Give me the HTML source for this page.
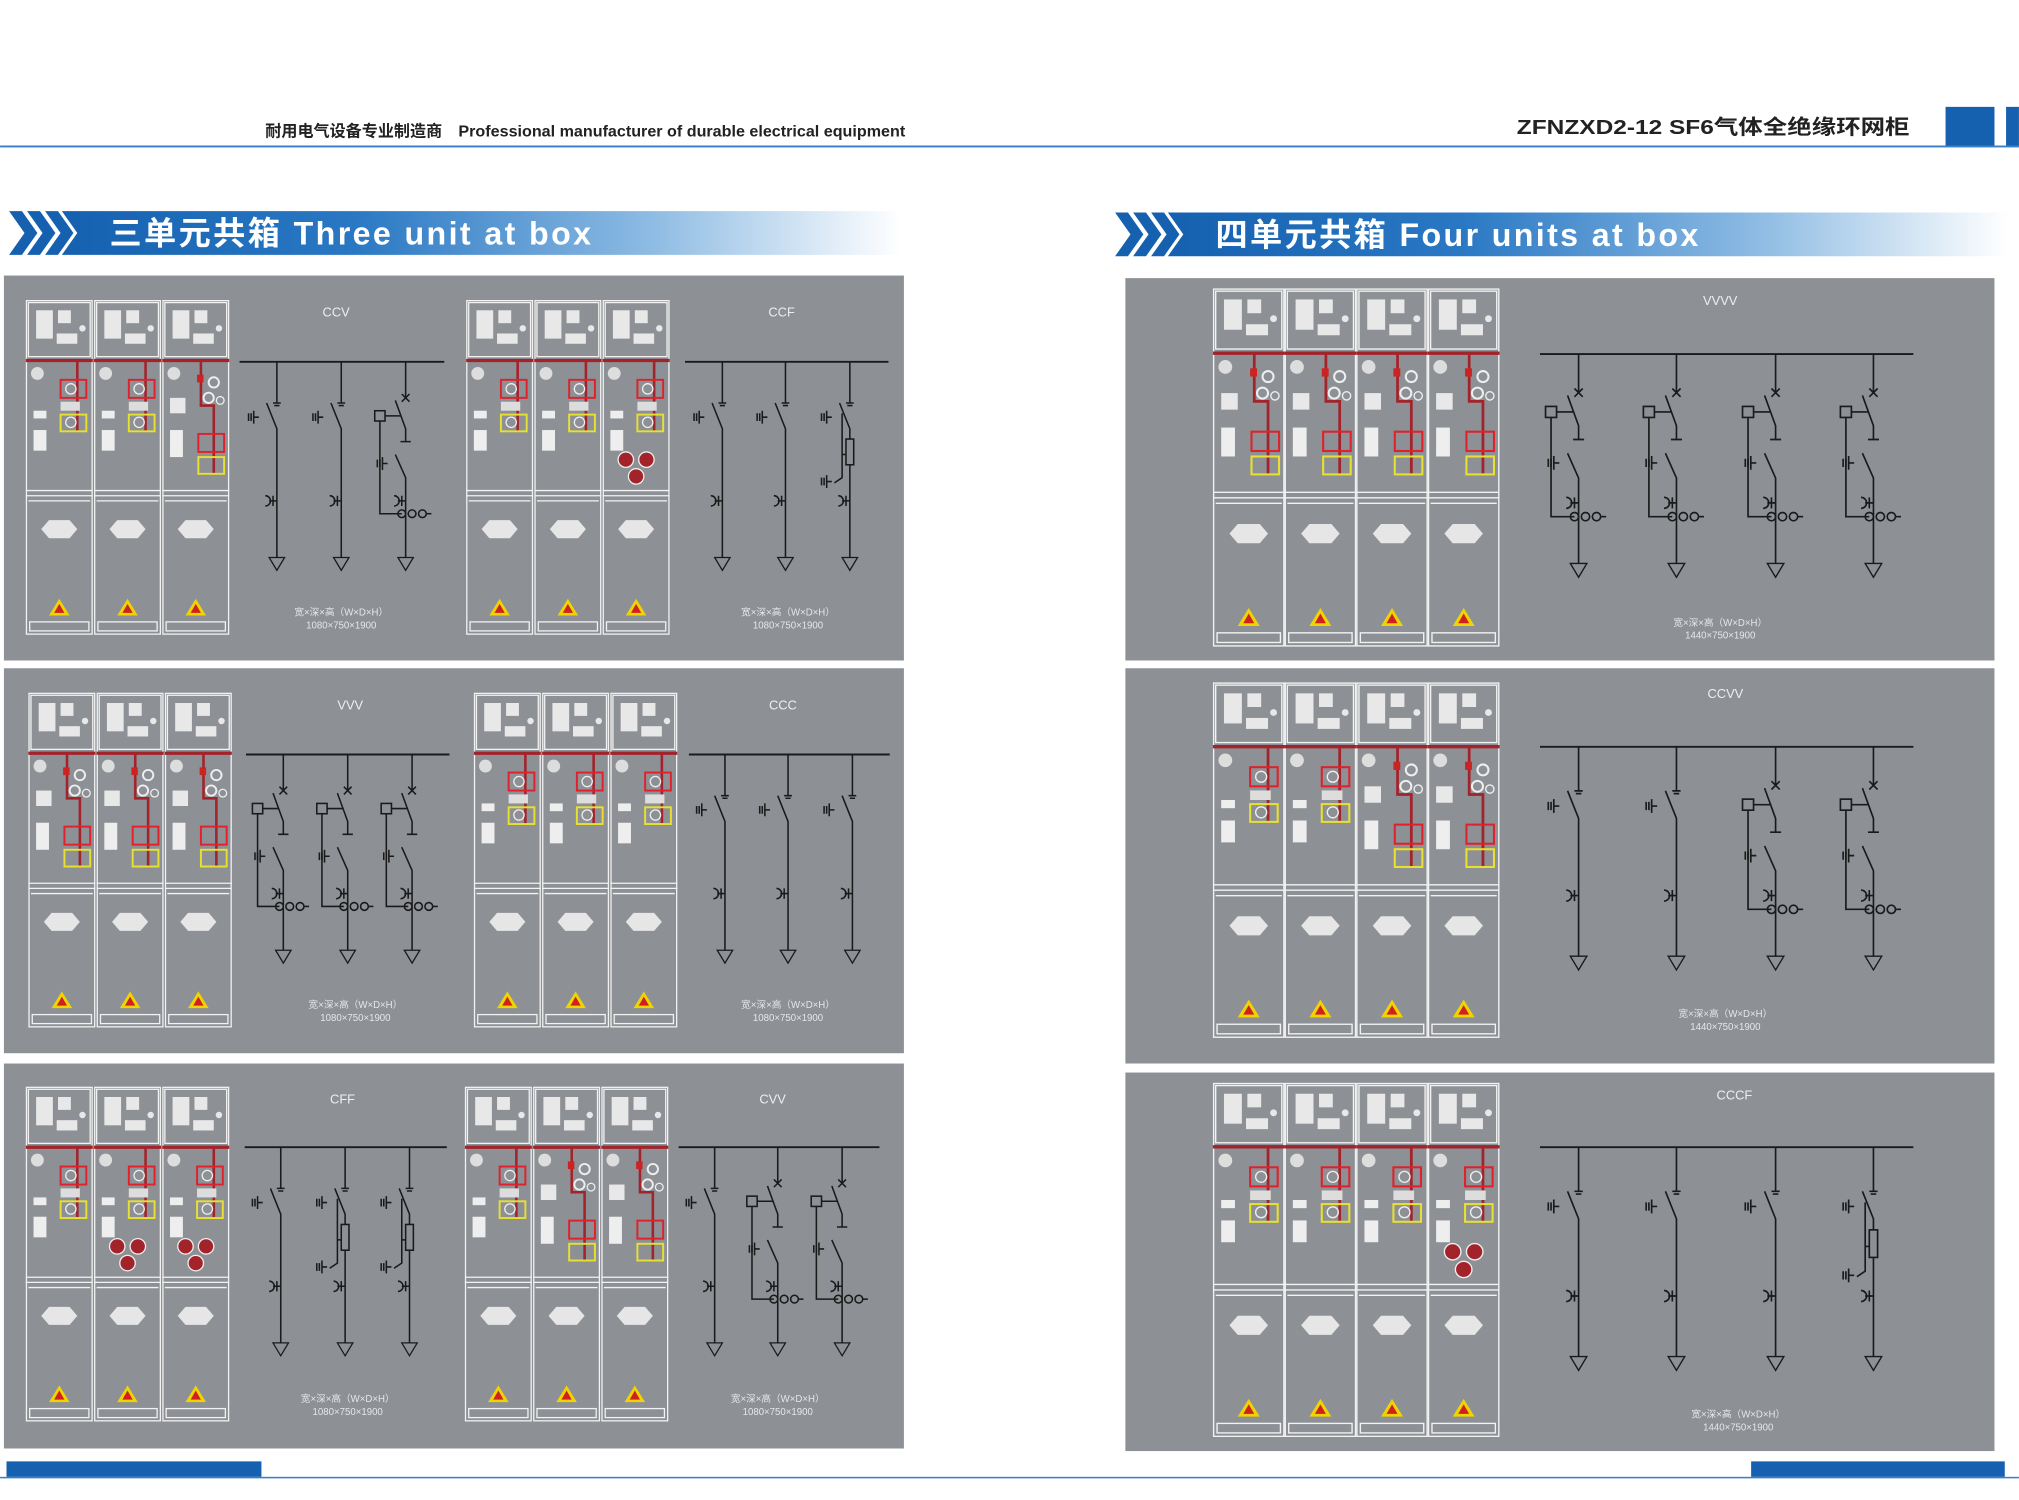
<!DOCTYPE html>
<html><head><meta charset="utf-8"><style>
html,body{margin:0;padding:0;background:#fff;width:2019px;height:1500px;overflow:hidden}
svg{display:block}
.t{font-family:"Liberation Sans","Noto Sans CJK SC",sans-serif}
</style></head><body>
<svg width="2019" height="1500" viewBox="0 0 1568 1165" xmlns="http://www.w3.org/2000/svg">
<defs>
<linearGradient id="bg1" x1="0" x2="1" y1="0" y2="0">
<stop offset="0" stop-color="#1561b0"/><stop offset="0.35" stop-color="#2a78c4"/><stop offset="0.7" stop-color="#8dbbe3"/><stop offset="1" stop-color="#ffffff"/></linearGradient>
<g id="chev"><path d="M0 0h10l12 17-12 17H0l12-17z" fill="#1561b0"/><path d="M14 0h10l12 17-12 17H14l12-17z" fill="#1561b0"/><path d="M28 0h10l12 17-12 17H28l12-17z" fill="#1561b0"/></g>
<g id="base" fill="none" stroke="#f2f2f2" stroke-width="1">
<rect x="0.5" y="0.5" width="51" height="259"/>
<rect x="2" y="2" width="48" height="42"/>
<line x1="0" y1="148" x2="52" y2="148"/><line x1="0" y1="152" x2="52" y2="152"/>
<line x1="2" y1="156" x2="50" y2="156"/>
<rect x="3" y="250" width="46" height="7"/>
<path d="M12 178l6-7h16l6 7-6 7H18z" fill="#e6e6e6" stroke="none"/>
<path d="M26 232l8 13H18z" fill="#f0d400" stroke="none"/><path d="M26 236l4 7h-8z" fill="#d02020" stroke="none"/>
<line x1="0" y1="47" x2="52" y2="47" stroke="#a3232b" stroke-width="2.5"/>
<rect x="8" y="8" width="13" height="22" fill="#e8e8e8" stroke="none"/>
<rect x="25" y="8" width="10" height="10" fill="#e8e8e8" stroke="none"/>
<rect x="24" y="26" width="16" height="8" fill="#e8e8e8" stroke="none"/>
<circle cx="44" cy="22" r="2.5" fill="#e8e8e8" stroke="none"/>
<circle cx="9" cy="57" r="5" fill="#ddd" stroke="none"/>
<rect x="6" y="101" width="10" height="16" fill="#eee" stroke="none"/>
</g>
<g id="colC"><use href="#base"/>
<line x1="40" y1="47" x2="40" y2="102" stroke="#a3232b" stroke-width="2"/>
<rect x="27" y="62" width="20" height="14" fill="none" stroke="#e0202a" stroke-width="1.5"/>
<circle cx="35" cy="69" r="4" fill="none" stroke="#eee"/>
<rect x="27" y="79" width="15" height="7" fill="#ddd"/>
<rect x="27" y="89" width="20" height="13" fill="none" stroke="#e8e030" stroke-width="1.5"/>
<circle cx="35" cy="95" r="4" fill="none" stroke="#eee"/>
<rect x="6" y="86" width="10" height="6" fill="#eee"/>
</g>
<g id="colV"><use href="#base"/>
<path d="M30 47V82H40V135" fill="none" stroke="#a3232b" stroke-width="2"/>
<rect x="27" y="58" width="5" height="6" fill="#c22"/>
<circle cx="40" cy="64" r="4" fill="none" stroke="#eee" stroke-width="1.5"/>
<circle cx="36" cy="76" r="4" fill="none" stroke="#eee" stroke-width="1.5"/><circle cx="45" cy="78" r="3" fill="none" stroke="#eee"/>
<rect x="6" y="76" width="12" height="12" fill="#e8e8e8"/>
<rect x="28" y="104" width="20" height="14" fill="none" stroke="#e0202a" stroke-width="1.5"/>
<rect x="28" y="122" width="20" height="13" fill="none" stroke="#e8e030" stroke-width="1.5"/>
<rect x="6" y="116" width="10" height="6" fill="#eee"/>
</g>
<g id="colF"><use href="#colC"/>
<circle cx="18" cy="124" r="6" fill="#a3232b" stroke="#eee"/><circle cx="34" cy="124" r="6" fill="#a3232b" stroke="#eee"/><circle cx="26" cy="137" r="6" fill="#a3232b" stroke="#eee"/>
</g>
<g id="tri"><path d="M-6 152h12l-6 10z" fill="none" stroke="#1a1a1a" stroke-width="1"/></g>
<g id="cap" fill="none" stroke="#1a1a1a" stroke-width="1.2"><path d="M-9 104a4 4 0 0 1 0 8M-6 108h6M-3 104v8"/></g>
<g id="esw" fill="none" stroke="#1a1a1a" stroke-width="1.2"><path d="M-22 40v6M-20 40v6M-18 38v10M-18 43h4"/></g>
<g id="fC" fill="none" stroke="#1a1a1a" stroke-width="1.2">
<path d="M0 0v32M-3 32h6M-2 34h4"/><path d="M-8 32L0 52V152"/><use href="#esw"/><use href="#cap"/><use href="#tri"/></g>
<g id="fV" fill="none" stroke="#1a1a1a" stroke-width="1.2">
<path d="M0 0v28M-3 25l6 6M3 25l-6 6"/><path d="M-8 30L0 52V62M-4 62h8"/>
<rect x="-24" y="38" width="8" height="8"/><path d="M-20 46V118H-3M-16 42H-4"/>
<path d="M-8 72L0 90V152"/><path d="M-22 76v6M-20 76v6M-18 74v10M-18 79h4"/><use href="#cap"/>
<circle cx="-3" cy="118" r="3"/><circle cx="5" cy="118" r="3"/><circle cx="13" cy="118" r="3"/><path d="M16 118h4"/>
<use href="#tri"/></g>
<g id="fF" fill="none" stroke="#1a1a1a" stroke-width="1.2">
<path d="M0 0v32M-3 32h6M-2 34h4"/><path d="M-8 32L0 52V60"/><rect x="-3" y="60" width="6" height="20"/><path d="M0 80V152"/>
<path d="M-6 40V72H-3M-6 72V90L-12 94"/><path d="M-22 90v6M-20 90v6M-18 88v10M-18 93h4"/><use href="#esw"/><use href="#cap"/><use href="#tri"/></g>
</defs>

<text x="206" y="106" class="t" font-size="12.5" font-weight="bold" fill="#222">耐用电气设备专业制造商</text>
<text x="356" y="106" class="t" font-size="12.5" font-weight="bold" fill="#222" textLength="347" lengthAdjust="spacingAndGlyphs">Professional manufacturer of durable electrical equipment</text>
<text x="1178" y="104" class="t" font-size="16" font-weight="bold" fill="#222" textLength="305" lengthAdjust="spacingAndGlyphs">ZFNZXD2-12 SF6气体全绝缘环网柜</text>
<rect x="1511" y="83" width="38" height="30" fill="#1561b0"/><rect x="1558" y="83" width="10" height="30" fill="#1561b0"/>
<rect x="0" y="113" width="1568" height="1.5" fill="#3b7fc8"/>

<use href="#chev" x="7" y="164"/>
<path d="M48 164H700V198H48l12-17z" fill="url(#bg1)"/>
<text x="85" y="190" class="t" font-size="25" font-weight="bold" fill="#fff" textLength="374" lengthAdjust="spacing">三单元共箱 Three unit at box</text>
<use href="#chev" x="866" y="165"/>
<path d="M907 165H1560V199H907l12-17z" fill="url(#bg1)"/>
<text x="944" y="191" class="t" font-size="25" font-weight="bold" fill="#fff" textLength="375" lengthAdjust="spacing">四单元共箱 Four units at box</text>

<g fill="#8d9196">
<rect x="3" y="214" width="699" height="299"/><rect x="3" y="519" width="699" height="299"/><rect x="3" y="826" width="699" height="299"/>
<rect x="874" y="216" width="675" height="297"/><rect x="874" y="519" width="675" height="307"/><rect x="874" y="833" width="675" height="294"/>
</g>

<g class="t" fill="#eee" text-anchor="middle" font-size="10">
<text x="261" y="246">CCV</text><text x="607" y="246">CCF</text>
<text x="272" y="551">VVV</text><text x="608" y="551">CCC</text>
<text x="266" y="857">CFF</text><text x="600" y="857">CVV</text>
<text x="1336" y="237">VVVV</text><text x="1340" y="542">CCVV</text><text x="1347" y="854">CCCF</text>
</g>
<g class="t" fill="#e6e6e6" text-anchor="middle" font-size="7.5">
<text x="265" y="478">宽×深×高（W×D×H）</text><text x="265" y="488">1080×750×1900</text>
<text x="612" y="478">宽×深×高（W×D×H）</text><text x="612" y="488">1080×750×1900</text>
<text x="276" y="783">宽×深×高（W×D×H）</text><text x="276" y="793">1080×750×1900</text>
<text x="612" y="783">宽×深×高（W×D×H）</text><text x="612" y="793">1080×750×1900</text>
<text x="270" y="1089">宽×深×高（W×D×H）</text><text x="270" y="1099">1080×750×1900</text>
<text x="604" y="1089">宽×深×高（W×D×H）</text><text x="604" y="1099">1080×750×1900</text>
<text x="1336" y="486">宽×深×高（W×D×H）</text><text x="1336" y="496">1440×750×1900</text>
<text x="1340" y="790">宽×深×高（W×D×H）</text><text x="1340" y="800">1440×750×1900</text>
<text x="1350" y="1101">宽×深×高（W×D×H）</text><text x="1350" y="1111">1440×750×1900</text>
</g>

<use href="#colC" x="20" y="233"/><use href="#colC" x="73" y="233"/><use href="#colV" x="126" y="233"/>
<use href="#colC" x="362" y="233"/><use href="#colC" x="415" y="233"/><use href="#colF" x="468" y="233"/>
<use href="#colV" x="22" y="538"/><use href="#colV" x="75" y="538"/><use href="#colV" x="128" y="538"/>
<use href="#colC" x="368" y="538"/><use href="#colC" x="421" y="538"/><use href="#colC" x="474" y="538"/>
<use href="#colC" x="20" y="844"/><use href="#colF" x="73" y="844"/><use href="#colF" x="126" y="844"/>
<use href="#colC" x="361" y="844"/><use href="#colV" x="414" y="844"/><use href="#colV" x="467" y="844"/>
<g transform="translate(942,224) scale(1.07,1.07)"><use href="#colV"/><use href="#colV" x="52"/><use href="#colV" x="104"/><use href="#colV" x="156"/></g>
<g transform="translate(942,530) scale(1.07,1.062)"><use href="#colC"/><use href="#colC" x="52"/><use href="#colV" x="104"/><use href="#colV" x="156"/></g>
<g transform="translate(942,841) scale(1.07,1.058)"><use href="#colC"/><use href="#colC" x="52"/><use href="#colC" x="104"/><use href="#colF" x="156"/></g>

<g stroke="#1a1a1a" stroke-width="1.5">
<line x1="186" y1="281" x2="345" y2="281"/><line x1="532" y1="281" x2="690" y2="281"/>
<line x1="191" y1="586" x2="349" y2="586"/><line x1="535" y1="586" x2="691" y2="586"/>
<line x1="190" y1="891" x2="347" y2="891"/><line x1="527" y1="891" x2="683" y2="891"/>
<line x1="1196" y1="275" x2="1486" y2="275"/><line x1="1196" y1="580" x2="1486" y2="580"/><line x1="1196" y1="891" x2="1486" y2="891"/>
</g>
<use href="#fC" x="215" y="281"/><use href="#fC" x="265" y="281"/><use href="#fV" x="315" y="281"/>
<use href="#fC" x="561" y="281"/><use href="#fC" x="610" y="281"/><use href="#fF" x="660" y="281"/>
<use href="#fV" x="220" y="586"/><use href="#fV" x="270" y="586"/><use href="#fV" x="320" y="586"/>
<use href="#fC" x="563" y="586"/><use href="#fC" x="612" y="586"/><use href="#fC" x="662" y="586"/>
<use href="#fC" x="218" y="891"/><use href="#fF" x="268" y="891"/><use href="#fF" x="318" y="891"/>
<use href="#fC" x="555" y="891"/><use href="#fV" x="604" y="891"/><use href="#fV" x="654" y="891"/>
<g transform="translate(0,275)"><use href="#fV" transform="translate(1226,0) scale(1.07)"/><use href="#fV" transform="translate(1302,0) scale(1.07)"/><use href="#fV" transform="translate(1379,0) scale(1.07)"/><use href="#fV" transform="translate(1455,0) scale(1.07)"/></g>
<g transform="translate(0,580)"><use href="#fC" transform="translate(1226,0) scale(1.07)"/><use href="#fC" transform="translate(1302,0) scale(1.07)"/><use href="#fV" transform="translate(1379,0) scale(1.07)"/><use href="#fV" transform="translate(1455,0) scale(1.07)"/></g>
<g transform="translate(0,891)"><use href="#fC" transform="translate(1226,0) scale(1.07)"/><use href="#fC" transform="translate(1302,0) scale(1.07)"/><use href="#fC" transform="translate(1379,0) scale(1.07)"/><use href="#fF" transform="translate(1455,0) scale(1.07)"/></g>

<rect x="0" y="1147" width="1568" height="1.2" fill="#3b7fc8"/>
<rect x="5" y="1135" width="198" height="12" fill="#1561b0"/>
<rect x="1360" y="1135" width="197" height="12" fill="#1561b0"/>
</svg>
</body></html>
